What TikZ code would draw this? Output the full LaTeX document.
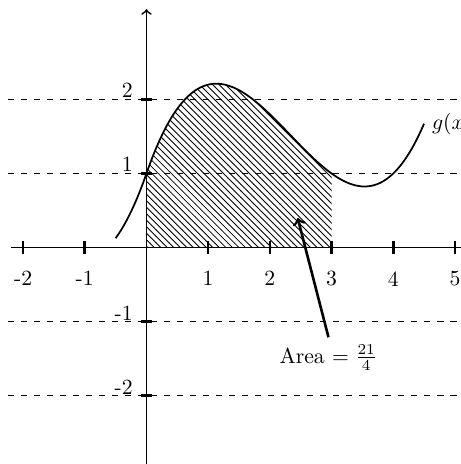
\documentclass[tikz,border=0pt]{standalone}
\usetikzlibrary{patterns}
\tikzset{declare function={g(\x)=0.2*\x^3-1.4*\x^2+2.4*\x+1;}}
\begin{document}
\begin{tikzpicture}[x=1cm,y=1.2cm]
  \useasboundingbox (-2.374,-2.924) rectangle (5.097,3.343);
  % 虚线
  \foreach \y in {-2,-1,1,2}
    \draw[dashed] (-2.25,\y) -- (5.2,\y);
  % 面积阴影
  \fill[pattern=north west lines] (0,0) -- plot[domain=0:3,smooth,samples=60] (\x,{g(\x)}) -- (3,0) -- cycle;
  % 坐标轴
  \draw[thick] (-2.2,0) -- (5.2,0);
  \draw[thick,->] (0,-3) -- (0,3.22);
  % 刻度
  \foreach \x in {-2,-1,1,2,3,4,5} {
    \draw[very thick] (\x,-0.09) -- (\x,0.09);
    \node[below] at (\x,-0.22) {\x};
  }
  \foreach \y in {-2,-1,1,2} {
    \draw[very thick] (-0.09,\y) -- (0.09,\y);
    \node[anchor=south east,inner sep=0.5pt] at (-0.2,\y) {\y};
  }
  % 函数曲线
  \draw[thick] plot[domain=-0.5:4.5,smooth,samples=100] (\x,{g(\x)}) node[right] {$g(x)$};
  % 面积标注
  \node (area) at (2.95,-1.49) {Area $=\frac{21}{4}$};
  \coordinate (tip) at (2.45,0.4);
  \draw[very thick,->] (area.north) -- (tip);
\end{tikzpicture}
\end{document}
